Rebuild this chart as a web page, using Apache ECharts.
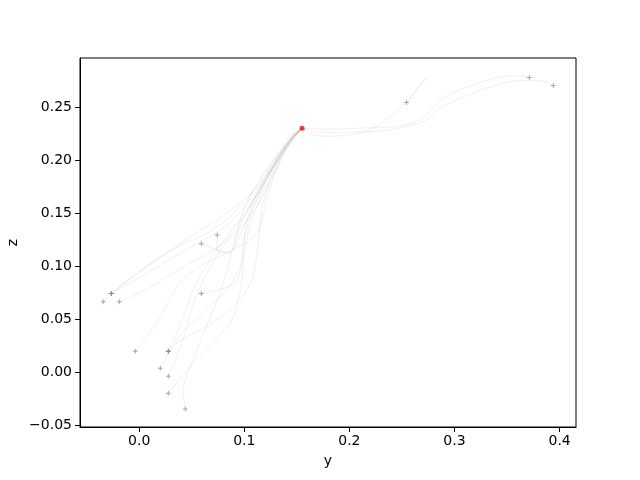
<!DOCTYPE html>
<html>
<head>
<meta charset="utf-8">
<script src="https://cdn.jsdelivr.net/npm/echarts@6/dist/echarts.min.js"></script>
<style>html,body{margin:0;padding:0;background:#fff}#c{width:640px;height:480px}</style>
</head>
<body>
<div id="c"></div>
<script>
// Axis ticks
const xTicks = [0.0, 0.1, 0.2, 0.3, 0.4];
const yTicks = [-0.05, 0.00, 0.05, 0.10, 0.15, 0.20, 0.25];

// Target point (red)
const target = [0.155, 0.230];

// Trajectories: [y, z] pairs
const trajL1 = [[-0.0342,0.0664],[-0.0265,0.0740],[0.000,0.094],[0.040,0.122],[0.080,0.148],[0.110,0.172],[0.130,0.200],[0.145,0.222],[0.155,0.230]];
const trajL2 = [[-0.0265,0.0740],[0.007,0.100],[0.040,0.120],[0.0705,0.1344],[0.1023,0.1626],[0.125,0.195],[0.143,0.222],[0.155,0.230]];
const trajL3 = [[-0.0265,0.0740],[0.005,0.092],[0.045,0.116],[0.085,0.140],[0.115,0.175],[0.135,0.205],[0.148,0.225],[0.155,0.230]];
const trajL4 = [[-0.0189,0.0664],[0.007,0.078],[0.0325,0.0937],[0.0483,0.103],[0.075,0.118],[0.100,0.140],[0.120,0.170],[0.140,0.210],[0.155,0.230]];
const trajB1 = [[-0.0037,0.0195],[0.0166,0.0467],[0.0388,0.0843],[0.0578,0.100],[0.0833,0.1125],[0.1118,0.131],[0.1213,0.1626],[0.132,0.195],[0.147,0.222],[0.155,0.230]];
const trajB2 = [[0.0277,0.0195],[0.0388,0.0294],[0.0705,0.0467],[0.0959,0.0686],[0.108,0.090],[0.113,0.120],[0.118,0.160],[0.133,0.200],[0.148,0.222],[0.155,0.230]];
const trajB3 = [[0.0277,0.0195],[0.0388,0.0435],[0.0515,0.078],[0.0674,0.1062],[0.085,0.130],[0.100,0.150],[0.120,0.180],[0.140,0.212],[0.155,0.230]];
const trajB4 = [[0.0201,0.0035],[0.0388,0.0341],[0.0642,0.0592],[0.085,0.080],[0.098,0.105],[0.106,0.140],[0.123,0.180],[0.142,0.215],[0.155,0.230]];
const trajB5 = [[0.0277,-0.0040],[0.042,0.031],[0.0515,0.065],[0.068,0.100],[0.088,0.130],[0.108,0.160],[0.128,0.195],[0.146,0.222],[0.155,0.230]];
const trajB6 = [[0.0277,-0.0200],[0.0547,0.0122],[0.0864,0.0467],[0.0959,0.075],[0.099,0.100],[0.102,0.140],[0.118,0.180],[0.140,0.215],[0.155,0.230]];
const trajB7 = [[0.0439,-0.0350],[0.042,-0.0191],[0.0515,0.0122],[0.0642,0.0435],[0.080,0.0843],[0.0928,0.1313],[0.1023,0.160],[0.120,0.190],[0.140,0.215],[0.155,0.230]];
const trajM1 = [[0.0591,0.0740],[0.0895,0.0827],[0.096,0.095],[0.099,0.120],[0.107,0.150],[0.123,0.185],[0.142,0.218],[0.155,0.230]];
const trajM2 = [[0.0591,0.1210],[0.0737,0.1156],[0.0857,0.1125],[0.0959,0.1375],[0.110,0.165],[0.128,0.195],[0.145,0.220],[0.155,0.230]];
const trajM3 = [[0.0743,0.1294],[0.0737,0.1156],[0.0864,0.1130],[0.097,0.132],[0.113,0.165],[0.130,0.198],[0.146,0.222],[0.155,0.230]];
const trajR1 = [[0.2542,0.2544],[0.2640,0.2665],[0.2735,0.2780],[0.2650,0.2680],[0.2542,0.2544],[0.2386,0.2413],[0.2196,0.2285],[0.2006,0.2240],[0.1815,0.2225],[0.1650,0.2235],[0.155,0.230]];
const trajR2 = [[0.3712,0.2779],[0.3620,0.2795],[0.3464,0.2790],[0.3200,0.2715],[0.2989,0.2638],[0.2862,0.2566],[0.2767,0.2459],[0.2672,0.2380],[0.2450,0.2318],[0.2132,0.2303],[0.1815,0.2293],[0.1650,0.2295],[0.155,0.230]];
const trajR3 = [[0.3940,0.2704],[0.3814,0.2751],[0.3623,0.2751],[0.3369,0.2697],[0.3243,0.2660],[0.2862,0.2488],[0.2735,0.2380],[0.2608,0.2334],[0.2291,0.2275],[0.1974,0.2265],[0.1815,0.2262],[0.1650,0.2270],[0.155,0.230]];

const trajectories = [trajL1,trajL2,trajL3,trajL4,trajB1,trajB2,trajB3,trajB4,trajB5,trajB6,trajB7,trajM1,trajM2,trajM3,trajR1,trajR2,trajR3];
const startPoints = trajectories.map(t => t[0]);

const fmtNum = (v, d) => {
  const s = Math.abs(v).toFixed(d);
  return (v < -1e-9 ? '\u2212' : '') + s;
};

const plus = 'path://M0.4,0H0.6V0.4H1V0.6H0.6V1H0.4V0.6H0V0.4H0.4Z';
const font = 'DejaVu Sans';

const series = trajectories.map(t => ({
  type: 'line',
  data: t,
  smooth: 0.35,
  symbol: 'none',
  silent: true,
  lineStyle: { color: '#808080', width: 0.8, opacity: 0.15 },
  z: 1
}));
series.push({
  type: 'scatter',
  data: startPoints,
  symbol: plus,
  symbolSize: 5,
  itemStyle: { color: 'rgba(100,100,100,0.7)' },
  z: 3
});
series.push({
  type: 'scatter',
  data: [target],
  symbol: 'circle',
  symbolSize: 5,
  itemStyle: { color: '#ff0000' },
  z: 4
});

const chart = echarts.init(document.getElementById('c'), null, { renderer: 'canvas' });
chart.setOption({
  animation: false,
  backgroundColor: '#fff',
  grid: { left: 80, right: 64, top: 58, bottom: 53, containLabel: false, outerBoundsMode: 'none', show: true, borderColor: '#000', borderWidth: 1, backgroundColor: 'transparent' },
  xAxis: {
    type: 'value',
    min: -0.0563, max: 0.4156,
    name: 'y', nameLocation: 'middle', nameGap: 27, nameMoveOverlap: false,
    nameTextStyle: { fontFamily: font, fontSize: 14, color: '#000' },
    axisLine: { show: true, onZero: false, lineStyle: { color: '#000', width: 1 } },
    axisTick: { show: true, inside: false, length: 5, lineStyle: { color: '#000' }, customValues: xTicks },
    axisLabel: { fontFamily: font, fontSize: 14, color: '#000', margin: 7, customValues: xTicks, formatter: v => fmtNum(v, 1) },
    splitLine: { show: false }
  },
  yAxis: {
    type: 'value',
    min: -0.0519, max: 0.2964,
    name: 'z', nameLocation: 'middle', nameGap: 60, nameRotate: 90, nameMoveOverlap: false,
    nameTextStyle: { fontFamily: font, fontSize: 14, color: '#000' },
    axisLine: { show: true, onZero: false, lineStyle: { color: '#000', width: 1 } },
    axisTick: { show: true, inside: false, length: 5, lineStyle: { color: '#000' }, customValues: yTicks },
    axisLabel: { fontFamily: font, fontSize: 14, color: '#000', margin: 8, customValues: yTicks, formatter: v => fmtNum(v, 2) },
    splitLine: { show: false }
  },
  series: series
});
</script>
</body>
</html>
